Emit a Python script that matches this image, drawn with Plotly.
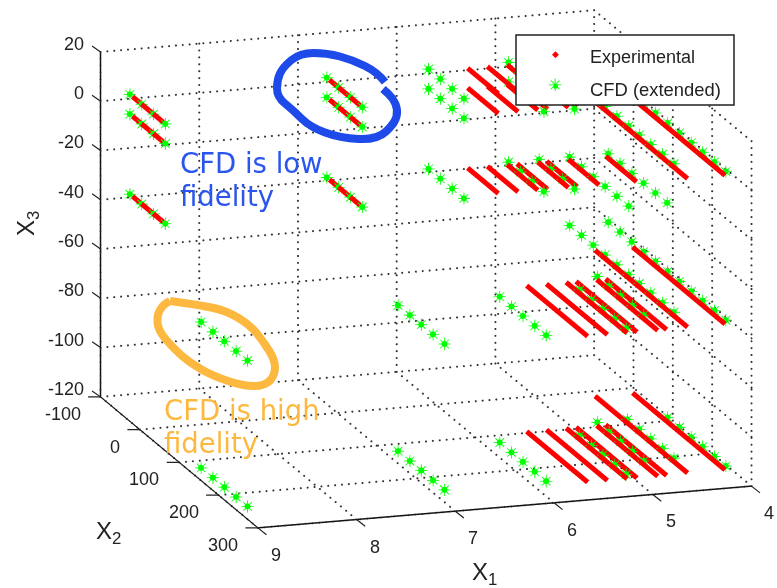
import plotly.graph_objects as go

W, H = 777, 588

# ---- axis ticks ----
x1_ticks = [4, 5, 6, 7, 8, 9]
x2_ticks = [-100, 0, 100, 200, 300]
x3_ticks = [-120, -100, -80, -60, -40, -20, 0, 20]

# ---- X3 levels of the measurement planes ----
Z_A, Z_B, Z_C, Z_D, Z_E = 12.5, 4.5, -28, -55.8, -115

# ---- Experimental: (X1, X3, X2 start, X2 end) ----
exp_x1_far = [5.6, 5.4, 5.2, 5.1, 4.89, 4.8]
exp_x1_long = [4.58, 4.2]
exp_x1_edge = [8.995, 7]
exp_near_span = [-20, 58]
exp_far_span = [130, 285]
exp_long_span_low = [48, 283]
exp_long_span_top = [-20, 283]

# ---- CFD X2 stations ----
s4 = [-27, 3, 33, 63]
s5a = [154, 184, 213, 243, 272]
s5b = [121, 151, 180, 210, 239]
s5c = [120, 150, 179, 209, 238]
s6a = [-27, 3, 33, 63, 93, 123]
s6b = [124, 154, 184, 213, 243, 272]
s10 = [-27, 3, 33, 63, 93, 123, 150, 179, 209, 238]
s11 = [-27, 3, 33, 63, 93, 124, 154, 184, 213, 243, 272]

cfd_groups = [
    (8.995, Z_A, s4), (8.995, Z_B, s4), (8.995, Z_C, s4), (8.995, Z_D, s5a), (8.995, Z_E, s5a),
    (7, Z_A, s4), (7, Z_B, s4), (7, Z_C, s4), (7, Z_D, s5a), (7, Z_E, s5a),
    (5.97, Z_A, s4), (5.97, Z_B, s4), (5.97, Z_C, s4), (5.97, Z_D, s5a), (5.97, Z_E, s5a),
    (5.16, Z_A, s4), (5.16, Z_B, s4), (5.16, Z_C, s4), (5.16, Z_D, s5a), (5.16, Z_E, s5a),
    (4.85, Z_A, s4), (4.85, Z_B, s4), (4.85, Z_C, s4), (4.85, Z_D, s5b), (4.85, Z_E, s5b),
    (4.54, Z_A, s4), (4.54, Z_B, s10), (4.54, Z_C, s6a), (4.54, Z_D, s10), (4.54, Z_E, s5c),
    (4.15, Z_A, s4), (4.15, Z_B, s11), (4.15, Z_C, s6a), (4.15, Z_D, s11), (4.15, Z_E, s6b),
]

# ---- hand-drawn strokes (page pixels) ----
blue_stroke = [(385, 82), (377, 72), (353, 60), (327, 53), (300, 53), (283, 67), (277, 80), (277, 97),
               (293, 110), (310, 127), (340, 138), (377, 140), (395, 123), (398, 110), (393, 98), (383, 89)]
orange_stroke = [(170, 301), (200, 305), (227, 311), (250, 325), (263, 341), (275, 360), (275, 375),
                 (265, 386), (243, 386), (213, 376), (190, 363), (173, 348), (158, 330), (157, 315),
                 (163, 305), (170, 301)]

# ---- build the experimental segments ----
exp_segments = []
for x in exp_x1_edge:
    for z in (Z_A, Z_B, Z_C):
        exp_segments.append((x, z, exp_near_span))
for x in exp_x1_far:
    for z in (Z_A, Z_B, Z_C):
        exp_segments.append((x, z, exp_near_span))
    for z in (Z_D, Z_E):
        exp_segments.append((x, z, exp_far_span))
for x in exp_x1_long:
    exp_segments.append((x, Z_A, exp_near_span))
    exp_segments.append((x, Z_B, exp_long_span_top))
    exp_segments.append((x, Z_C, exp_near_span))
    exp_segments.append((x, Z_D, exp_long_span_low))
    exp_segments.append((x, Z_E, exp_long_span_low))

ex, ey, ez = [], [], []
for x, z, span in exp_segments:
    ex += [x, x, None]
    ey += [span[0], span[1], None]
    ez += [z, z, None]

cx, cy, cz = [], [], []
for x, z, stations in cfd_groups:
    for s in stations:
        cx.append(x)
        cy.append(s)
        cz.append(z)

# ---- dotted grid on the three back walls, drawn as rows of small dots ----
gx, gy, gz = [], [], []
def seg(a, b, n):
    for i in range(n + 1):
        t = i / n
        gx.append(a[0] + (b[0] - a[0]) * t)
        gy.append(a[1] + (b[1] - a[1]) * t)
        gz.append(a[2] + (b[2] - a[2]) * t)

x_lo, x_hi = x1_ticks[0], x1_ticks[-1]
y_lo, y_hi = x2_ticks[0], x2_ticks[-1]
z_lo, z_hi = x3_ticks[0], x3_ticks[-1]
for z in x3_ticks:
    seg((x_hi, y_lo, z), (x_lo, y_lo, z), 72)
    seg((x_lo, y_lo, z), (x_lo, y_hi, z), 30)
for x in x1_ticks:
    seg((x, y_lo, z_lo), (x, y_lo, z_hi), 50)
    seg((x, y_lo, z_lo), (x, y_hi, z_lo), 30)
for y in x2_ticks:
    seg((x_lo, y, z_lo), (x_lo, y, z_hi), 50)
    seg((x_lo, y, z_lo), (x_hi, y, z_lo), 72)

fig = go.Figure()
fig.add_trace(go.Scatter3d(x=gx, y=gy, z=gz, mode="markers", showlegend=False, hoverinfo="skip",
                           marker=dict(color="#333333", size=1.2, line=dict(width=0))))
fig.add_trace(go.Scatter3d(x=cx, y=cy, z=cz, mode="markers+text", text=["✳"] * len(cx), name="CFD (extended)",
                           showlegend=False, textposition="middle center",
                           marker=dict(color="#00ff00", size=3.5, line=dict(width=0)),
                           textfont=dict(color="#00ff00", size=17, family="DejaVu Sans")))
fig.add_trace(go.Scatter3d(x=ex, y=ey, z=ez, mode="lines", name="Experimental", showlegend=False,
                           line=dict(color="#ff0000", width=10)))

axis = dict(showgrid=False, zeroline=False, showbackground=False, showspikes=False,
            showline=True, linecolor="#111111", linewidth=3, ticks="", 
            showticklabels=False, title=dict(text=""))

INK = "#222222"
TICK_FONT = dict(family="Liberation Sans", size=18, color=INK)

def tick_label(x, y, z, anchor, dx, dy, text):
    return dict(x=x, y=y, z=z, text=text, xanchor=anchor, yanchor="middle", showarrow=False,
                font=TICK_FONT, xshift=dx, yshift=dy)

def tick_mark(x, y, z, ax, ay):
    return dict(x=x, y=y, z=z, text=" ", showarrow=True, arrowhead=0, arrowwidth=1.2, arrowcolor=INK,
                ax=ax, ay=ay, font=dict(size=1), standoff=0, startstandoff=0)

scene_notes = []
for v in x3_ticks:
    scene_notes.append(tick_label(x_hi, y_lo, v, "right", -15, 8, str(v)))
    scene_notes.append(tick_mark(x_hi, y_lo, v, -10, -7))
for v in x2_ticks:
    scene_notes.append(tick_label(x_hi, v, z_lo, "right", -18, -17, str(v)))
    scene_notes.append(tick_mark(x_hi, v, z_lo, -14, 0))
for v in x1_ticks:
    scene_notes.append(tick_label(v, y_hi, z_lo, "center", 18, -27, str(v)))
    scene_notes.append(tick_mark(v, y_hi, z_lo, 10, 8))

fig.update_layout(
    width=W, height=H, paper_bgcolor="white", margin=dict(l=0, r=0, t=0, b=0), showlegend=False,
    scene=dict(
        domain=dict(x=[0.0966, 1.0], y=[0.085, 1.0]),
        aspectmode="manual", aspectratio=dict(x=1.926, y=1.926, z=1.33),
        camera=dict(eye=dict(x=0.586, y=1.838, z=0.531), up=dict(x=0, y=0, z=1), center=dict(x=0, y=0, z=0),
                    projection=dict(type="orthographic")),
        xaxis=dict(axis, range=[x_lo, x_hi], tickvals=x1_ticks),
        yaxis=dict(axis, range=[y_lo, y_hi], tickvals=x2_ticks),
        zaxis=dict(axis, range=[z_lo, z_hi], tickvals=x3_ticks),
        annotations=scene_notes,
    ),
)

def px(x): return x / W
def py(y): return 1 - y / H

def smooth(points):
    d = f"M {px(points[0][0])} {py(points[0][1])}"
    for i in range(1, len(points) - 1):
        a, b = points[i], points[i + 1]
        mx, my = (a[0] + b[0]) / 2, (a[1] + b[1]) / 2
        d += f" Q {px(a[0])} {py(a[1])} {px(mx)} {py(my)}"
    d += f" L {px(points[-1][0])} {py(points[-1][1])}"
    return d

fig.add_shape(type="path", xref="paper", yref="paper", path=smooth(blue_stroke),
              line=dict(color="#1d4ae8", width=8))
fig.add_shape(type="path", xref="paper", yref="paper", path=smooth(orange_stroke),
              line=dict(color="#fdb840", width=8))
fig.add_shape(type="rect", xref="paper", yref="paper", x0=px(516), x1=px(734), y0=py(35), y1=py(105),
              fillcolor="white", line=dict(color="#222222", width=1.5))

def note(x, y, text, color, size, family="DejaVu Sans", anchor="left", angle=0):
    fig.add_annotation(xref="paper", yref="paper", x=px(x), y=py(y), text=text, showarrow=False,
                       xanchor=anchor, yanchor="middle", align="left", borderpad=0, borderwidth=0,
                       textangle=angle, font=dict(color=color, size=size, family=family))

note(180, 163, "CFD is low", "#2a55ee", 27.5)
note(180, 196, "fidelity", "#2a55ee", 27.5)
note(164, 410, "CFD is high", "#fdb840", 27.5)
note(164, 443, "fidelity", "#fdb840", 27.5)
note(555, 54, "◆", "#ff0000", 9, "DejaVu Sans", "center")
note(555, 85, "✳", "#00ff00", 17, "DejaVu Sans", "center")
note(555, 85, "●", "#00ff00", 6, "DejaVu Sans", "center")
note(590, 57, "Experimental", INK, 18, "Liberation Sans")
note(590, 89, "CFD (extended)", INK, 18.4, "Liberation Sans")
note(108, 532, "X<sub>2</sub>", INK, 24, "Liberation Sans", "center")
note(484, 573, "X<sub>1</sub>", INK, 24, "Liberation Sans", "center")
note(27, 224, "X<sub>3</sub>", INK, 24, "Liberation Sans", "center", -90)

fig.write_html("out.html", config={"displayModeBar": False}, post_script="document.body.style.margin='0';")
